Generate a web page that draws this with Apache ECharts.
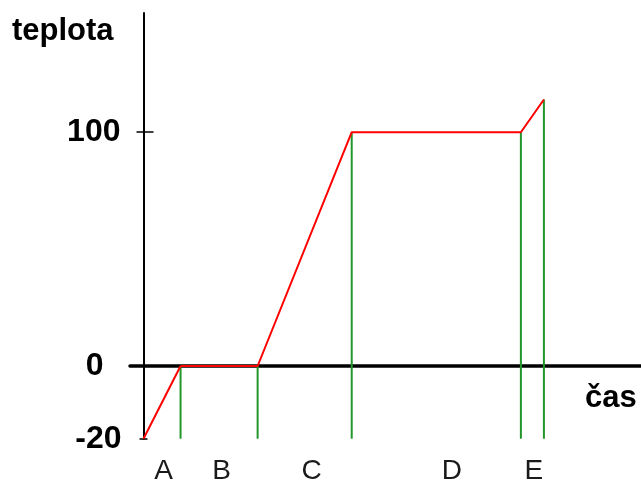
<!DOCTYPE html>
<html>
<head>
<meta charset="utf-8">
<script src="https://cdn.jsdelivr.net/npm/echarts@6/dist/echarts.min.js"></script>
<style>html,body{margin:0;padding:0;background:#fff}#c{width:641px;height:486px}</style>
</head>
<body>
<div id="c"></div>
<script>
// heating curve (schematic): time points and temperatures
const times = [0, 3.7, 11.4, 20.8, 37.7, 40.0];
const temps = [-20, 0, 0, 100, 100, 114];
// phase boundaries (green verticals)
const phaseEnds = [3.7, 11.4, 20.8, 37.7, 40.0];
const phaseEndTemps = [0, 0, 100, 100, 114];
// phase letters and where they sit on the time axis
const phaseLabels = ['A', 'B', 'C', 'D', 'E'];
const phaseLabelPos = [2.0, 7.8, 16.8, 30.8, 39.0];
// tick labels
const upperTicks = [100];
const zeroTick = [0];
const lowerTicks = [-20];

const FONT = 'Liberation Sans';
const RED = '#ff0000';
const GREEN = '#22962a';

const points = times.map((t, i) => [t, temps[i]]);
const lowerLine = points.slice(0, 2);
const upperLine = points.slice(1);

const chart = echarts.init(document.getElementById('c'), null, {renderer: 'canvas'});
const X_MIN = -1.35, X_MAX = 49.7;
const GRID_LEFT = 130, GRID_W = 641 - GRID_LEFT;
// shift the y axes inward so they sit at time 0
const Y_OFF = -(0 - X_MIN) * GRID_W / (X_MAX - X_MIN);

function yAx(grid, min, max, o) {
  return Object.assign({type: 'value', gridIndex: grid, min: min, max: max, position: 'left',
    offset: Y_OFF, splitLine: {show: false}}, o);
}

chart.setOption({
  animation: false,
  backgroundColor: '#fff',
  title: [
    {text: 'teplota', left: 12, top: 16, padding: 0,
     textStyle: {fontFamily: FONT, fontSize: 31, fontWeight: 'bold', color: '#000'}},
    {text: 'čas', left: 585, top: 383, padding: 0,
     textStyle: {fontFamily: FONT, fontSize: 31, fontWeight: 'bold', color: '#000'}}
  ],
  grid: [
    {left: GRID_LEFT, right: 0, top: 13, height: 353},
    {left: GRID_LEFT, right: 0, top: 366, height: 72.7}
  ],
  xAxis: [
    {type: 'value', gridIndex: 0, min: X_MIN, max: X_MAX,
     axisLine: {show: true, onZero: true, lineStyle: {color: '#000', width: 3.5}},
     axisTick: {show: false}, axisLabel: {show: false}, splitLine: {show: false}},
    {type: 'value', gridIndex: 1, min: X_MIN, max: X_MAX, position: 'bottom',
     axisLine: {show: false, onZero: false}, axisTick: {show: false}, splitLine: {show: false},
     axisLabel: {show: true, customValues: phaseLabelPos, margin: 19,
       fontFamily: FONT, fontSize: 28, color: '#1a1a1a',
       formatter: v => { const i = phaseLabelPos.indexOf(v); return i >= 0 ? phaseLabels[i] : ''; }}}
  ],
  yAxis: [
    yAx(0, 0, 151, {
      axisLine: {show: true, onZero: false, lineStyle: {color: '#000', width: 2}},
      axisTick: {show: true, customValues: upperTicks, length: 7, lineStyle: {color: '#000', width: 1.5}},
      axisLabel: {show: true, customValues: upperTicks, margin: 23,
        fontFamily: FONT, fontSize: 32, fontWeight: 'bold', color: '#000'}}),
    yAx(0, 0, 151, {
      axisLine: {show: false, onZero: false},
      axisTick: {show: true, inside: true, customValues: upperTicks, length: 10, lineStyle: {color: '#000', width: 1.5}},
      axisLabel: {show: true, customValues: zeroTick, margin: 40,
        fontFamily: FONT, fontSize: 32, fontWeight: 'bold', color: '#000'}}),
    yAx(1, -20, 0, {
      axisLine: {show: true, onZero: false, lineStyle: {color: '#000', width: 2}},
      axisTick: {show: true, customValues: lowerTicks, length: 4, lineStyle: {color: '#000', width: 1.5}},
      axisLabel: {show: true, customValues: lowerTicks, margin: 22,
        fontFamily: FONT, fontSize: 32, fontWeight: 'bold', color: '#000'}}),
    yAx(1, -20, 0, {
      axisLine: {show: false, onZero: false},
      axisTick: {show: true, inside: true, customValues: lowerTicks, length: 4, lineStyle: {color: '#000', width: 1.5}},
      axisLabel: {show: false}})
  ],
  series: [
    {type: 'bar', xAxisIndex: 0, yAxisIndex: 0, barWidth: 2, z: 3,
     itemStyle: {color: GREEN}, data: phaseEnds.map((t, i) => [t, phaseEndTemps[i]])},
    {type: 'bar', xAxisIndex: 1, yAxisIndex: 2, barWidth: 2, z: 3,
     itemStyle: {color: GREEN}, data: phaseEnds.map(t => [t, lowerTicks[0]])},
    {type: 'line', xAxisIndex: 0, yAxisIndex: 0, data: upperLine, symbol: 'none', z: 4,
     lineStyle: {color: RED, width: 2}},
    {type: 'line', xAxisIndex: 1, yAxisIndex: 2, data: lowerLine, symbol: 'none', z: 4,
     lineStyle: {color: RED, width: 2}}
  ]
});
</script>
</body>
</html>
